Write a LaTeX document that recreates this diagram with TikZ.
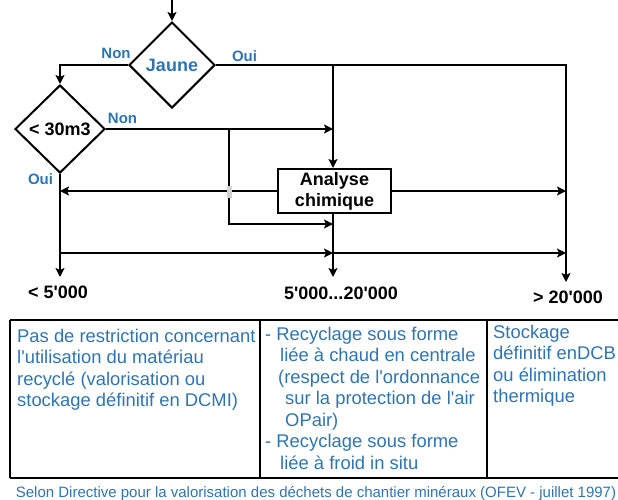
\documentclass[tikz,border=0pt]{standalone}
\usepackage{fontspec}
\setmainfont{Liberation Sans}[Ligatures=TeXOff]
\usetikzlibrary{shapes.geometric,arrows.meta}
\definecolor{lblue}{RGB}{46,116,181}
\begin{document}
\begin{tikzpicture}[x=1pt,y=-1pt,
  line/.style={line width=2pt, draw=black},
  arr/.style={line, -{Stealth[length=9pt,width=9pt,inset=2pt]}},
  dia/.style={diamond, draw=black, line width=2pt, inner sep=0pt, font=\fontsize{18}{21}\selectfont\bfseries},
  box/.style={rectangle, draw=black, line width=2pt, inner sep=0pt, align=center, font=\fontsize{18}{21}\selectfont\bfseries},
  lbl/.style={inner sep=0pt, text=lblue, font=\fontsize{15}{18}\selectfont\bfseries},
  val/.style={inner sep=0pt, font=\fontsize{18}{21}\selectfont\bfseries},
  cell/.style={inner sep=0pt, anchor=base west, text=lblue, font=\fontsize{18.4}{21.5}\selectfont},
  foot/.style={inner sep=0pt, anchor=base, text=lblue, font=\fontsize{15}{17}\selectfont},
  tab/.style={line width=2pt, draw=black}
]
\useasboundingbox (0,0) rectangle (618,499);
% nodes
\coordinate (top) at (172,0);
\node[dia, text=lblue, minimum width=86pt, minimum height=86pt] (jaune) at (172,65) {Jaune};
\node[dia, minimum width=90pt, minimum height=88pt] (d30) at (60,129) {< 30m3};
\node[box, minimum width=113pt, minimum height=44pt] (ana) at (334.5,191) {Analyse\\chimique};
\coordinate (c333) at (333,65);
\coordinate (e566) at (566,282);
\coordinate (b229) at (229,224);
\coordinate (e60) at (60,277);
\coordinate (e333) at (333,277);
\coordinate (h60) at (60,253);
% connectors
\draw[arr] (top) -- (jaune.north);
\draw[arr] (jaune.west) -| (d30.north);
\draw[arr] (jaune.east) -| (e566);
\draw[arr] (c333) -- (c333 |- ana.north);
\draw[arr] (d30.east) -- (d30.east -| c333);
\draw[arr] (d30.east -| b229) -- (b229) -- (b229 -| c333);
\draw[arr] (d30.south) -- (e60);
\draw[arr] (ana.west) -- (ana.west -| e60);
\draw[arr] (ana.east) -- (ana.east -| e566);
\draw[arr] (c333 |- ana.south) -- (e333);
\draw[arr] (h60) -- (h60 -| c333);
\draw[arr] (h60 -| c333) -- (h60 -| e566);
\fill[gray!35] (226.5,186) rectangle (231.5,198);
% labels
\node[lbl] (non1) at (116,53.5) {Non};
\node[lbl] (oui1) at (244.5,56.5) {Oui};
\node[lbl] (non2) at (122.5,118.5) {Non};
\node[lbl] (oui2) at (40.5,179) {Oui};
\node[val] (v1) at (58,292) {< 5'000};
\node[val] (v2) at (341,293) {5'000...20'000};
\node[val] (v3) at (568,297) {> 20'000};
% table
\draw[tab] (10,320) -- (618,320);
\draw[tab] (10,478) -- (618,478);
\draw[tab] (10,320) -- (10,478);
\draw[tab] (260,320) -- (260,478);
\draw[tab] (487,320) -- (487,478);
\foreach \t [count=\i] in {{Pas de restriction concernant},{l'utilisation du matériau},{recyclé (valorisation ou},{stockage définitif en DCMI)}}
  \node[cell] (ca\i) at (17,{342+21.6*(\i-1)}) {\t};
\foreach \xx/\t [count=\i] in {265/{- Recyclage sous forme},280/{liée à chaud en centrale},278/{(respect de l'ordonnance},285/{sur la protection de l'air},285/{OPair)},265/{- Recyclage sous forme},280/{liée à froid in situ}}
  \node[cell] (cb\i) at (\xx,{340+21.5*(\i-1)}) {\t};
\foreach \t [count=\i] in {{Stockage},{définitif enDCB},{ou élimination},{thermique}}
  \node[cell] (cc\i) at (493,{338+21.5*(\i-1)}) {\t};
\node[foot] (src) at (316,497) {Selon Directive pour la valorisation des déchets de chantier minéraux (OFEV - juillet 1997)};
\end{tikzpicture}
\end{document}
